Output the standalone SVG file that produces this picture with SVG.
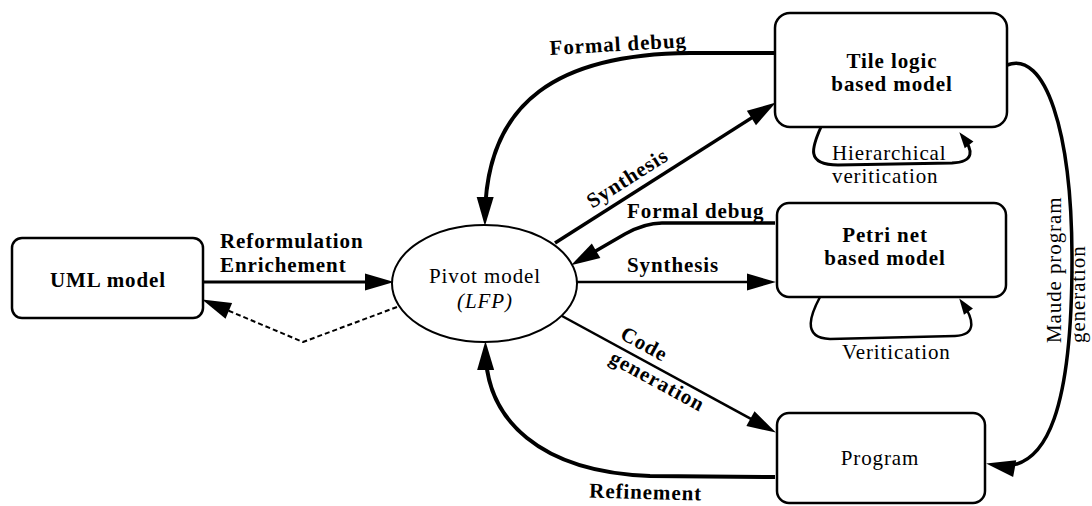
<svg xmlns="http://www.w3.org/2000/svg" width="1092" height="506" viewBox="0 0 1092 506">
<style>
text{font-family:"Liberation Serif","Times New Roman",serif;font-size:21px;fill:#000;letter-spacing:0.9px}
.b{font-weight:bold}
.box{fill:#fff;stroke:#000;stroke-width:2.5}
.c{fill:none;stroke:#000;stroke-linecap:butt;stroke-linejoin:round}
</style>
<defs>
<marker id="ah" markerUnits="userSpaceOnUse" markerWidth="30" markerHeight="18" refX="20" refY="8.5" orient="auto" overflow="visible">
<path d="M0,0 L29,8.5 L0,17 z" fill="#000"/>
</marker>
<marker id="ahs" markerUnits="userSpaceOnUse" markerWidth="18" markerHeight="12" refX="10" refY="5.5" orient="auto" overflow="visible">
<path d="M0,0 L16,5.5 L0,11 z" fill="#000"/>
</marker>
</defs>
<rect width="1092" height="506" fill="#fff"/>
<g id="connectors">
<path class="c" d="M203,282 L385,282" stroke-width="3" marker-end="url(#ah)"/>
<path class="c" d="M397,307 L303,342 L210.4,303.1" stroke-width="2" stroke-dasharray="5,3" marker-end="url(#ah)"/>
<path class="c" d="M775,53 L690,53 C560,54 486,100 485,217" stroke-width="4" marker-end="url(#ah)"/>
<path class="c" d="M555,243 L768.3,107.3" stroke-width="3.5" marker-end="url(#ah)"/>
<path class="c" d="M775,223 L662,223 Q645,223 625,234 L578.8,260.8" stroke-width="3.5" marker-end="url(#ah)"/>
<path class="c" d="M577,282 L767,282" stroke-width="2.5" marker-end="url(#ah)"/>
<path class="c" d="M562,316 L768,428.2" stroke-width="2.5" marker-end="url(#ah)"/>
<path class="c" d="M775,477 L650,476 C540,472 486,420 485.5,350" stroke-width="4" marker-end="url(#ah)"/>
<path class="c" d="M1007,65 C1045,50 1072,130 1072,260 C1072,400 1050,475 995,465" stroke-width="3.5" marker-end="url(#ah)"/>
<path class="c" d="M821,127 C812,147 805,165 838,165 L952,163 C975,162 973,150 963,137" stroke-width="3" marker-end="url(#ahs)"/>
<path class="c" d="M820,297 C812,312 800,338 830,339 L955,336 C978,335 973,318 962.7,303.4" stroke-width="2.5" marker-end="url(#ahs)"/>
<text class="b" transform="translate(618.5,51) rotate(-3.3)" text-anchor="middle">Formal debug</text>
<text class="b" transform="translate(631,184) rotate(-32.5)" text-anchor="middle">Synthesis</text>
<text class="b" x="627" y="218">Formal debug</text>
<text class="b" x="627" y="272">Synthesis</text>
<text class="b" x="220" y="248">Reformulation</text>
<text class="b" x="220" y="272">Enrichement</text>
<text class="b" transform="translate(641,350) rotate(28.6)" text-anchor="middle">Code</text>
<text class="b" transform="translate(654,387) rotate(28.6)" text-anchor="middle">generation</text>
<text class="b" transform="translate(645.5,499) rotate(1.5)" text-anchor="middle">Refinement</text>
<text x="832" y="160">Hierarchical</text>
<text x="832" y="183">veritication</text>
<text x="842" y="359">Veritication</text>
<text transform="translate(1061,343) rotate(-90)">Maude program</text>
<text transform="translate(1085,343) rotate(-90)">generation</text>
</g>
<g id="uml">
<rect class="box" x="12" y="238" width="191" height="80" rx="10"/>
<text class="b" x="108" y="287" text-anchor="middle">UML model</text>
</g>
<g id="pivot">
<ellipse cx="484.5" cy="283.5" rx="92.5" ry="58.5" fill="#fff" stroke="#000" stroke-width="2"/>
<text x="485" y="283" text-anchor="middle">Pivot model</text>
<text x="485" y="308" text-anchor="middle" font-style="italic">(LFP)</text>
</g>
<g id="tile">
<rect class="box" x="775" y="13" width="232" height="114" rx="15" stroke-width="3.5"/>
<text class="b" x="892" y="68" text-anchor="middle">Tile logic</text>
<text class="b" x="892" y="91" text-anchor="middle">based model</text>
</g>
<g id="petri">
<rect class="box" x="777" y="203" width="229" height="94" rx="12"/>
<text class="b" x="885" y="242" text-anchor="middle">Petri net</text>
<text class="b" x="885" y="265" text-anchor="middle">based model</text>
</g>
<g id="program">
<rect class="box" x="777" y="413" width="208" height="90" rx="12"/>
<text x="880" y="465" text-anchor="middle">Program</text>
</g>
</svg>
